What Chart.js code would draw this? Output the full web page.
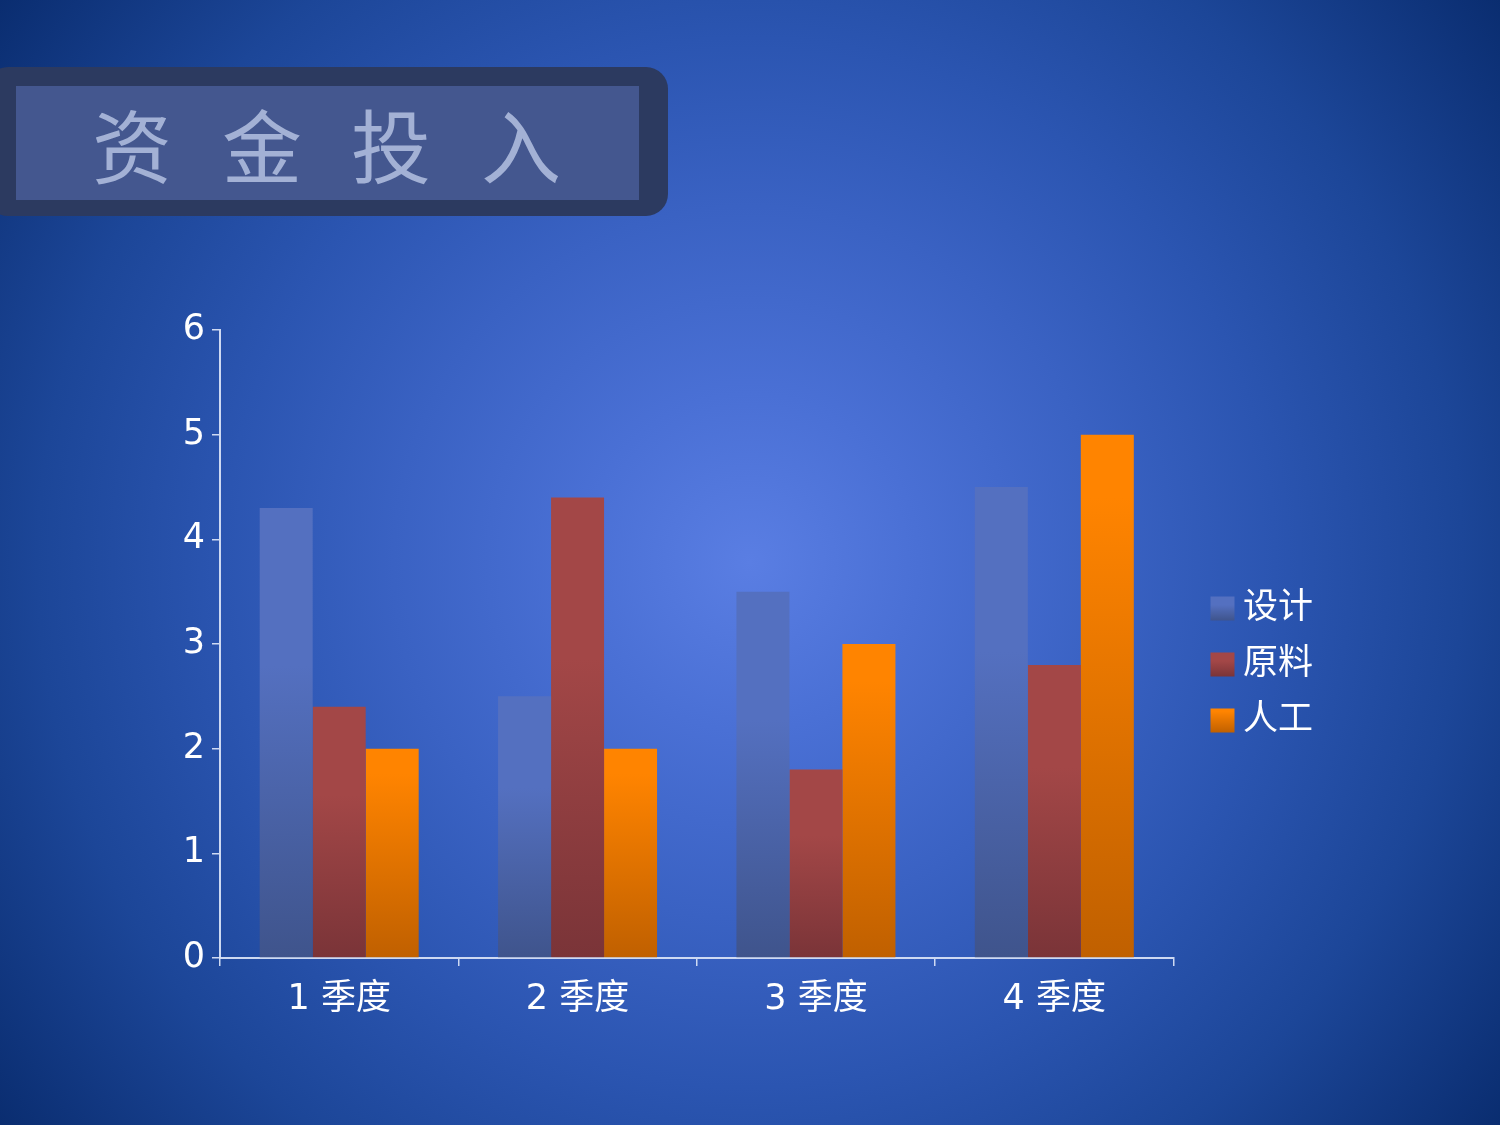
<!DOCTYPE html>
<html>
<head>
<meta charset="utf-8">
<script src="https://cdn.jsdelivr.net/npm/chart.js@4"></script>
<style>
html, body { margin: 0; padding: 0; width: 1500px; height: 1125px; overflow: hidden; }
body {
  background: radial-gradient(circle farthest-corner at 50% 50%,
    #5a7ee3 0%, #4a70d5 18%, #3a62c3 38%, #2b55b1 56%, #1c4698 76%, #0a2d70 100%);
}
#titleOuter { position: absolute; left: -14px; top: 67px; width: 682px; height: 149px; background: #2c3a60; border-radius: 22px; }
#titleInner { position: absolute; left: 16px; top: 86px; width: 623px; height: 114px; background: #44578f; }
.tc { position: absolute; top: 102px; width: 100px; text-align: center; font-family: "Noto Sans CJK SC", sans-serif; font-size: 80px; line-height: 80px; color: #a3b1d5; }
#wrap { position: absolute; left: 0; top: 0; width: 1500px; height: 1125px; }
</style>
</head>
<body>
<div id="titleOuter"></div>
<div id="titleInner"></div>
<div class="tc" style="left:82px">资</div>
<div class="tc" style="left:212px">金</div>
<div class="tc" style="left:341px">投</div>
<div class="tc" style="left:471px">入</div>
<div id="wrap"><canvas id="c" width="1500" height="1125"></canvas></div>
<script>
const categories = ['1 季度', '2 季度', '3 季度', '4 季度'];
const seriesNames = ['设计', '原料', '人工'];
const designValues = [4.3, 2.5, 3.5, 4.5];
const materialValues = [2.4, 4.4, 1.8, 2.8];
const laborValues = [2, 2, 3, 5];
const yTickValues = [0, 1, 2, 3, 4, 5, 6];

const palettes = [
  { top: '#5470c0', bottom: '#3f548c', hold: 0.35, mid: '#4a62a6' },
  { top: '#a34747', bottom: '#7a3438', hold: 0.35, mid: '#8f3e40' },
  { top: '#ff8400', bottom: '#c06000', hold: 0.12, mid: '#e07200' }
];

const FONT = "'DejaVu Sans', 'Noto Sans CJK SC', sans-serif";
const TEXT_SIZE = 35;
const LEGEND_SQUARE = 24;

function makeGrad(c, y0, y1, p) {
  const g = c.createLinearGradient(0, y0, 0, y1);
  g.addColorStop(0, p.top);
  g.addColorStop(p.hold, p.top);
  g.addColorStop(1, p.bottom);
  return g;
}

function barFill(p) {
  return (ctx) => {
    const chart = ctx.chart;
    if (ctx.type !== 'data' || !chart.chartArea || !chart.scales.y) return p.mid;
    const v = ctx.parsed ? ctx.parsed.y : ctx.raw;
    const yTop = chart.scales.y.getPixelForValue(v);
    const yBot = chart.scales.y.getPixelForValue(0);
    if (!isFinite(yTop) || !isFinite(yBot) || yTop === yBot) return p.mid;
    return makeGrad(chart.ctx, yTop, yBot, p);
  };
}

const legendGradientPlugin = {
  id: 'legendGradient',
  afterUpdate(chart) {
    const lg = chart.legend;
    if (!lg || !lg.legendItems || !lg.legendHitBoxes) return;
    lg.legendItems.forEach((item, i) => {
      const hb = lg.legendHitBoxes[i];
      if (!hb) return;
      const top = hb.top + (TEXT_SIZE - LEGEND_SQUARE) / 2;
      item.fillStyle = makeGrad(chart.ctx, top, top + LEGEND_SQUARE, palettes[item.datasetIndex]);
      item.lineWidth = 0;
    });
  }
};

const allValues = [designValues, materialValues, laborValues];
const axisColor = 'rgba(215, 224, 245, 0.95)';

new Chart(document.getElementById('c'), {
  type: 'bar',
  data: {
    labels: categories,
    datasets: seriesNames.map((name, i) => ({
      label: name,
      data: allValues[i],
      backgroundColor: barFill(palettes[i]),
      borderWidth: 0,
      categoryPercentage: 0.667,
      barPercentage: 1.0
    }))
  },
  options: {
    responsive: false,
    animation: false,
    devicePixelRatio: 1,
    layout: { padding: { left: 180, top: 330, right: 177, bottom: 91 } },
    plugins: {
      title: { display: false },
      tooltip: { enabled: false },
      legend: {
        display: true,
        position: 'right',
        align: 'center',
        fullSize: false,
        title: { display: true, text: ' ', font: { size: 1 }, padding: { top: 20, bottom: 20 } },
        labels: {
          color: '#ffffff',
          usePointStyle: true,
          pointStyle: 'rect',
          boxWidth: 6,
          boxHeight: LEGEND_SQUARE,
          padding: 21,
          font: { family: FONT, size: TEXT_SIZE }
        }
      }
    },
    scales: {
      x: {
        grid: { display: true, drawOnChartArea: false, drawTicks: true, tickLength: 8, color: axisColor, lineWidth: 1.5 },
        border: { display: true, color: axisColor, width: 2 },
        ticks: { color: '#ffffff', padding: 13, font: { family: FONT, size: TEXT_SIZE }, maxRotation: 0 }
      },
      y: {
        min: 0,
        max: 6,
        afterBuildTicks: (s) => { s.ticks = yTickValues.map(v => ({ value: v })); },
        grid: { display: true, drawOnChartArea: false, drawTicks: true, tickLength: 8, color: axisColor, lineWidth: 1.5 },
        border: { display: true, color: axisColor, width: 2 },
        ticks: { color: '#ffffff', padding: 7, font: { family: FONT, size: TEXT_SIZE } },
        afterFit: (s) => { s.width = 40; }
      },
      gap: {
        type: 'linear',
        position: 'right',
        display: true,
        grid: { display: false, drawTicks: false },
        border: { display: false },
        ticks: { display: false },
        afterFit: (s) => { s.width = 25; }
      }
    }
  },
  plugins: [legendGradientPlugin]
});
</script>
</body>
</html>
